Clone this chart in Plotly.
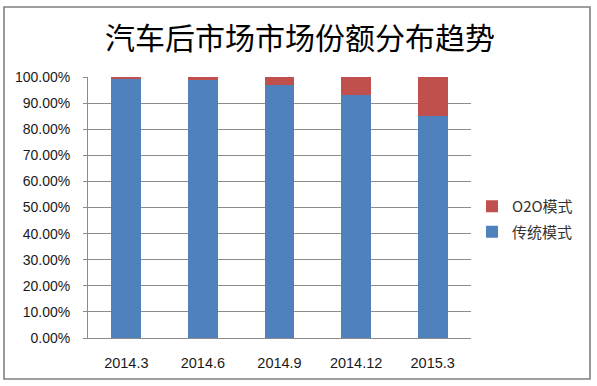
import plotly.graph_objects as go

categories = ["2014.3", "2014.6", "2014.9", "2014.12", "2015.3"]
traditional = [0.995, 0.988, 0.970, 0.930, 0.850]
o2o = [0.005, 0.012, 0.030, 0.070, 0.150]
ytick_vals = [i / 10 for i in range(11)]

W, H = 597, 386
L, R, T, B = 88, 126, 77, 48
pw, ph = W - L - R, H - T - B

def px(x):
    return (x - L) / pw

def py(y):
    return (H - B - y) / ph

fig = go.Figure()
fig.add_trace(go.Bar(x=categories, y=traditional, name="传统模式",
                     marker=dict(color="#4F81BD", line=dict(width=0)),
                     width=0.39, legendgroup="a", legendrank=2))
fig.add_trace(go.Bar(x=categories, y=o2o, name="O2O模式",
                     marker=dict(color="#C0504D", line=dict(width=0)),
                     width=0.39, legendgroup="b", legendrank=1))

fig.update_layout(
    width=W, height=H,
    margin=dict(l=L, r=R, t=T, b=B),
    barmode="stack",
    paper_bgcolor="white", plot_bgcolor="white",
    font=dict(family="Liberation Sans, Arial, sans-serif", size=14, color="#1a1a1a"),
    title=dict(text="汽车后市场市场份额分布趋势", x=300 / W, xref="container", xanchor="center",
               y=1 - 38 / H, yref="container", yanchor="middle",
               font=dict(family="Noto Sans CJK SC", size=30, color="#000000")),
    showlegend=True,
    legend=dict(x=px(472), y=py(190), xanchor="left", yanchor="top",
                traceorder="grouped", tracegroupgap=3,
                font=dict(family="Noto Sans CJK SC, Liberation Sans", size=15, color="#333333"),
                itemwidth=30, bgcolor="rgba(0,0,0,0)"),
    shapes=[dict(type="rect", xref="paper", yref="paper",
                 x0=px(4), x1=px(590), y0=py(379), y1=py(7),
                 line=dict(color="#808080", width=1.6), layer="below")],
)

fig.update_yaxes(range=[0, 1], tickvals=ytick_vals, tickformat=".2%",
                 showgrid=True, gridcolor="#8c8c8c", gridwidth=1,
                 showline=True, linecolor="#8c8c8c", linewidth=1,
                 ticks="outside", ticklen=4, tickcolor="#8c8c8c",
                 ticklabelstandoff=10, zeroline=False, fixedrange=True)
fig.update_xaxes(showline=True, linecolor="#8c8c8c", linewidth=1,
                 ticks="", ticklabelstandoff=12, showgrid=False,
                 tickfont=dict(size=14.5),
                 range=[-0.5, 4.5], fixedrange=True)

fig.write_html("out.html")
